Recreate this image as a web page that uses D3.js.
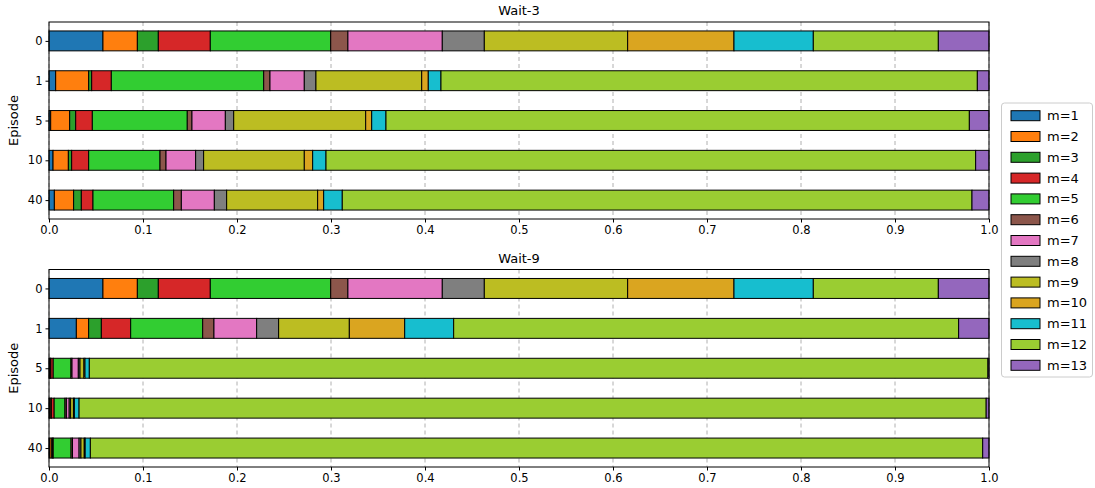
<!DOCTYPE html>
<html>
<head>
<meta charset="utf-8">
<script src="https://cdn.jsdelivr.net/npm/d3@7"></script>
<style>
  html, body { margin: 0; padding: 0; background: #fff; }
  svg { display: block; font-family: "DejaVu Sans", sans-serif; }
</style>
</head>
<body>
<svg id="chart" width="1095" height="488"></svg>
<script>
// Episodes shown on each panel (top to bottom)
const episodes = ["0", "1", "5", "10", "40"];

// Series keys and legend labels
const seriesKeys = ["m1","m2","m3","m4","m5","m6","m7","m8","m9","m10","m11","m12","m13"];
const seriesLabels = ["m=1","m=2","m=3","m=4","m=5","m=6","m=7","m=8","m=9","m=10","m=11","m=12","m=13"];
const seriesColors = ["#1f77b4","#ff7f0e","#2ca02c","#d62728","#32cd32","#8c564b",
                      "#e377c2","#7f7f7f","#bcbd22","#daa520","#17becf","#9acd32","#9467bd"];

// Share of each m per episode (rows follow seriesKeys; columns follow episodes)
const wait3 = [
  [0.0574, 0.0071, 0.0018, 0.0043, 0.0057],
  [0.0366, 0.0351, 0.0202, 0.0163, 0.0205],
  [0.0223, 0.0032, 0.0064, 0.0035, 0.0082],
  [0.0553, 0.0209, 0.0177, 0.0181, 0.0124],
  [0.1281, 0.1621, 0.1010, 0.0759, 0.0858],
  [0.0183, 0.0067, 0.0050, 0.0064, 0.0082],
  [0.1004, 0.0365, 0.0355, 0.0315, 0.0351],
  [0.0447, 0.0124, 0.0089, 0.0085, 0.0131],
  [0.1525, 0.1125, 0.1404, 0.1071, 0.0968],
  [0.1131, 0.0070, 0.0064, 0.0089, 0.0064],
  [0.0844, 0.0135, 0.0152, 0.0142, 0.0198],
  [0.1330, 0.5706, 0.6206, 0.6911, 0.6699],
  [0.0539, 0.0124, 0.0209, 0.0142, 0.0181]
];

const wait9 = [
  [0.0574, 0.0291, 0.0005, 0.0005, 0.0010],
  [0.0366, 0.0131, 0.0010, 0.0015, 0.0020],
  [0.0223, 0.0135, 0.0005, 0.0005, 0.0010],
  [0.0553, 0.0312, 0.0025, 0.0030, 0.0005],
  [0.1281, 0.0766, 0.0189, 0.0115, 0.0190],
  [0.0183, 0.0120, 0.0011, 0.0015, 0.0015],
  [0.1004, 0.0454, 0.0067, 0.0030, 0.0070],
  [0.0447, 0.0234, 0.0018, 0.0015, 0.0020],
  [0.1525, 0.0752, 0.0042, 0.0030, 0.0035],
  [0.1131, 0.0589, 0.0011, 0.0010, 0.0010],
  [0.0844, 0.0521, 0.0046, 0.0050, 0.0055],
  [0.1330, 0.5372, 0.9560, 0.9650, 0.9493],
  [0.0539, 0.0323, 0.0011, 0.0030, 0.0067]
];

// x tick values and their labels
const xTicks = [0, 0.1, 0.2, 0.3, 0.4, 0.5, 0.6, 0.7, 0.8, 0.9, 1.0];
const xTickLabels = ["0.0","0.1","0.2","0.3","0.4","0.5","0.6","0.7","0.8","0.9","1.0"];

const svg = d3.select("#chart");

const left = 49, right = 989;
const x = d3.scaleLinear().domain([0, 1]).range([left, right]);
const tickFont = 11.5;

function toRows(matrix) {
  return episodes.map((ep, j) => {
    const row = { episode: ep, idx: j };
    seriesKeys.forEach((k, i) => { row[k] = matrix[i][j]; });
    return row;
  });
}

function drawPanel(title, matrix, top, bottom) {
  const g = svg.append("g");
  const y = d3.scaleLinear().domain([-0.475, episodes.length - 1 + 0.475]).range([top, bottom]);
  const barH = y(0.25) - y(-0.25);

  // dashed vertical grid
  g.append("g")
    .selectAll("line")
    .data(xTicks)
    .join("line")
    .attr("x1", d => x(d)).attr("x2", d => x(d))
    .attr("y1", top).attr("y2", bottom)
    .attr("stroke", "#b0b0b0")
    .attr("stroke-width", 1)
    .attr("stroke-dasharray", "4,3");

  const stacked = d3.stack().keys(seriesKeys)(toRows(matrix));

  g.append("g")
    .selectAll("g")
    .data(stacked)
    .join("g")
    .attr("fill", (d, i) => seriesColors[i])
    .selectAll("rect")
    .data(d => d)
    .join("rect")
    .attr("x", d => x(d[0]))
    .attr("width", d => Math.max(0, x(d[1]) - x(d[0])))
    .attr("y", d => y(d.data.idx) - barH / 2)
    .attr("height", barH)
    .attr("stroke", "#000")
    .attr("stroke-width", 1);

  // axes frame
  g.append("rect")
    .attr("x", left).attr("y", top)
    .attr("width", right - left).attr("height", bottom - top)
    .attr("fill", "none").attr("stroke", "#000").attr("stroke-width", 1);

  const xAxis = d3.axisBottom(x)
    .tickValues(xTicks)
    .tickFormat((d, i) => xTickLabels[i])
    .tickSize(3.5).tickPadding(3);
  const gx = g.append("g").attr("transform", `translate(0,${bottom})`).call(xAxis);
  gx.select(".domain").remove();
  gx.selectAll("text").attr("font-size", tickFont).attr("fill", "#000").attr("font-family", "DejaVu Sans");
  gx.selectAll("line").attr("stroke", "#000");

  const yAxis = d3.axisLeft(y)
    .tickValues(episodes.map((e, i) => i))
    .tickFormat(i => episodes[i])
    .tickSize(3.5).tickPadding(3);
  const gy = g.append("g").attr("transform", `translate(${left},0)`).call(yAxis);
  gy.select(".domain").remove();
  gy.selectAll("text").attr("font-size", tickFont).attr("fill", "#000").attr("font-family", "DejaVu Sans");
  gy.selectAll("line").attr("stroke", "#000");

  g.append("text")
    .attr("x", (left + right) / 2).attr("y", top - 7)
    .attr("text-anchor", "middle")
    .attr("font-size", 13)
    .text(title);

  g.append("text")
    .attr("transform", `translate(18,${(top + bottom) / 2}) rotate(-90)`)
    .attr("text-anchor", "middle")
    .attr("font-size", 13)
    .text("Episode");
}

drawPanel("Wait-3", wait3, 22, 219);
drawPanel("Wait-9", wait9, 269.5, 467);

// legend
const lg = svg.append("g");
const lgTop = 103, lgLeft = 1001.5, lgW = 91, lgH = 274;
lg.append("rect")
  .attr("x", lgLeft).attr("y", lgTop)
  .attr("width", lgW).attr("height", lgH)
  .attr("rx", 3)
  .attr("fill", "#fff").attr("stroke", "#cccccc");

const items = lg.selectAll("g.item")
  .data(seriesLabels)
  .join("g")
  .attr("class", "item")
  .attr("transform", (d, i) => `translate(0,${115.7 + i * 20.8})`);

items.append("rect")
  .attr("x", 1011).attr("y", -5)
  .attr("width", 29).attr("height", 10)
  .attr("fill", (d, i) => seriesColors[i])
  .attr("stroke", "#000").attr("stroke-width", 1);

items.append("text")
  .attr("x", 1047).attr("y", 0)
  .attr("dy", "0.35em")
  .attr("font-size", 13)
  .text(d => d);
</script>
</body>
</html>
